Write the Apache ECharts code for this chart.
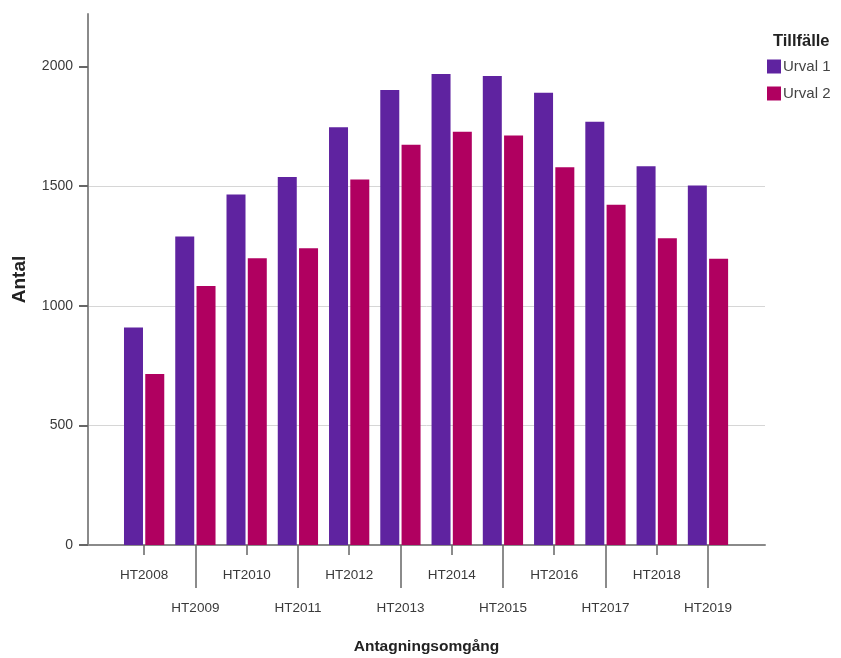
<!DOCTYPE html>
<html>
<head>
<meta charset="utf-8">
<script src="https://cdn.jsdelivr.net/npm/echarts@6/dist/echarts.min.js"></script>
<style>
html,body{margin:0;padding:0;background:#fff;}
#chart{width:841px;height:658px;}
</style>
</head>
<body>
<div id="chart"></div>
<script>
const categories = ['HT2008','HT2009','HT2010','HT2011','HT2012','HT2013','HT2014','HT2015','HT2016','HT2017','HT2018','HT2019'];
const urval1 = [909,1290,1465,1539,1747,1902,1969,1961,1891,1769,1583,1503];
const urval2 = [715,1083,1199,1241,1528,1673,1728,1712,1579,1423,1282,1197];
const yTicks = [0,500,1000,1500,2000];
const seriesNames = ['Urval 1','Urval 2'];
const legendTitle = 'Tillfälle';

const REG = "'Liberation Sans',Arial,sans-serif";

const chart = echarts.init(document.getElementById('chart'), null, {renderer:'canvas'});
const even = (i) => i % 2 === 0;
const odd = (i) => i % 2 === 1;
const tickStyle = {color:'#666', width:1.5};
const labelStyle = {color:'#3a3a3a', fontSize:13.5, fontFamily:REG};

chart.setOption({
  animation:false,
  backgroundColor:'#fff',
  title:{
    text:legendTitle, left:768, top:28,
    textStyle:{fontSize:16.5, fontWeight:'bold', color:'#222', fontFamily:REG}
  },
  legend:{
    data:seriesNames, orient:'vertical', left:762, top:54,
    itemWidth:14, itemHeight:14, itemGap:12, icon:'rect', itemStyle:{borderWidth:0},
    textStyle:{fontSize:15, color:'#444', fontFamily:REG, padding:[0,0,0,-3]}
  },
  grid:[
    {left:88, right:76, top:14, bottom:113, outerBoundsMode:'none', containLabel:false},
    {left:118.5, right:107.4, top:14, bottom:113, outerBoundsMode:'none', containLabel:false}
  ],
  xAxis:[
    {gridIndex:0, type:'value', min:0, max:1,
     axisLine:{show:true, lineStyle:{color:'#8a8a8a', width:2}},
     axisTick:{show:false}, axisLabel:{show:false}, splitLine:{show:false},
     name:'Antagningsomgång', nameLocation:'middle', nameGap:94,
     nameTextStyle:{fontSize:15.5, fontWeight:'bold', color:'#222', fontFamily:REG}},
    {gridIndex:1, type:'category', data:categories, position:'bottom', boundaryGap:true,
     axisLine:{show:false},
     axisTick:{show:true, alignWithLabel:true, interval:even, length:10, lineStyle:tickStyle},
     axisLabel:Object.assign({interval:even, margin:23}, labelStyle)},
    {gridIndex:1, type:'category', data:categories, position:'bottom', boundaryGap:true,
     axisLine:{show:false},
     axisTick:{show:true, alignWithLabel:true, interval:odd, length:43, lineStyle:tickStyle},
     axisLabel:Object.assign({interval:odd, margin:56}, labelStyle)}
  ],
  yAxis:[
    {gridIndex:0, type:'value', min:0, max:2220,
     axisLine:{show:true, lineStyle:{color:'#8a8a8a', width:2}},
     axisTick:{show:true, inside:false, length:9, customValues:yTicks, lineStyle:{color:'#666', width:2}},
     axisLabel:{customValues:yTicks, margin:15, color:'#3a3a3a', fontSize:14, fontFamily:REG,
                formatter:(v) => String(v)},
     splitLine:{show:true, showMaxLine:false, showMinLine:false, lineStyle:{color:'#d6d6d6', width:1}},
     name:'Antal', nameLocation:'middle', nameGap:59, nameRotate:90,
     nameTextStyle:{fontSize:19, fontWeight:'bold', color:'#222', fontFamily:REG}},
    {gridIndex:1, type:'value', min:0, max:2220, show:false, splitLine:{show:false}}
  ],
  series:[
    {name:seriesNames[0], type:'bar', xAxisIndex:1, yAxisIndex:1, data:urval1,
     barWidth:19, barGap:'12%', itemStyle:{color:'#5f23a0'}},
    {name:seriesNames[1], type:'bar', xAxisIndex:1, yAxisIndex:1, data:urval2,
     barWidth:19, barGap:'12%', itemStyle:{color:'#b00060'}}
  ]
});
</script>
</body>
</html>
